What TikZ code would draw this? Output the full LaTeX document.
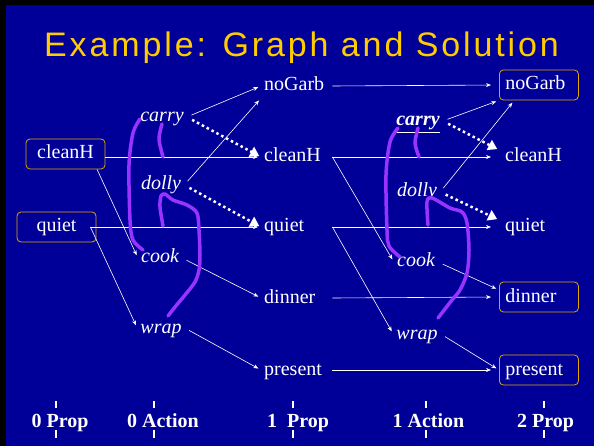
\documentclass[tikz,border=0pt]{standalone}
\usepackage{fontspec}
\setmainfont{Liberation Serif}
\newfontfamily\titlefont[LetterSpace=8.5]{Liberation Sans}
\usepackage{tikz}
\usetikzlibrary{arrows.meta, calc}
\definecolor{slidebg}{RGB}{0, 0, 153}
\definecolor{titlegold}{RGB}{255, 204, 0}
\definecolor{boxgold}{RGB}{224, 165, 0}
\definecolor{mutexpurple}{RGB}{153, 51, 255}

\begin{document}
\begin{tikzpicture}[
    x=1pt, y=-1pt,
    initBox/.style={draw=boxgold, line width=0.8pt, rounded corners=4pt, text=white, font=\fontsize{20}{24}\selectfont, minimum width=79pt, minimum height=30pt, inner sep=2pt, text height=14pt, text depth=4pt},
    propNode/.style={text=white, font=\fontsize{20}{24}\selectfont, text width=65pt, align=left, inner sep=3pt, text height=14pt, text depth=4pt, anchor=west},
    actNode/.style={text=white, font=\fontsize{20}{24}\selectfont\itshape, inner sep=3pt, text height=14pt, text depth=4pt},
    goalNode/.style={text=white, font=\fontsize{20}{24}\selectfont, text width=67pt, align=left, inner sep=6pt, minimum height=30pt, text height=14pt, text depth=4pt, anchor=west},
    goalBox/.style={goalNode, draw=boxgold, line width=0.8pt, rounded corners=4pt},
    link/.style={draw=white, line width=0.6pt, -{Stealth[length=5pt, width=4pt]}, shorten >=3pt},
    actLink/.style={link, shorten <=5pt},
    delLink/.style={draw=white, line width=2.5pt, dash pattern=on 2.5pt off 3pt, -{Triangle[length=9pt, width=11pt]}, shorten <=6pt, shorten >=2pt},
    mutex/.style={draw=mutexpurple, line width=3.5pt, line cap=round, line join=round},
    levelLabel/.style={text=white, font=\fontsize{20}{24}\selectfont\bfseries, anchor=base, inner sep=0pt},
    tick/.style={draw=white, line width=1.5pt}
]

% Slide background
\useasboundingbox (0,0) rectangle (594,446);
\fill[black] (0,0) rectangle (594,446);
\fill[slidebg] (6,5) rectangle (594,446);

\node[text=titlegold, font=\titlefont\fontsize{34}{40}\selectfont, anchor=base west, inner sep=0pt] (title) at (44,57) {Example: Graph and Solution};

% Level 0 propositions and actions
\node[initBox] (cleanH0) at (65.5,154) {cleanH};
\node[initBox] (quiet0) at (56.5,227) {quiet};

\node[actNode] (carry0) at (162,117) {carry};
\node[actNode] (dolly0) at (161,185) {dolly};
\node[actNode] (cook0) at (160,258) {cook};
\node[actNode] (wrap0) at (161,328) {wrap};

% Level 1 propositions and actions
\node[propNode] (noGarb1) at (261,86) {noGarb};
\node[propNode] (cleanH1) at (261,157) {cleanH};
\node[propNode] (quiet1) at (261,227) {quiet};
\node[propNode] (dinner1) at (261,298) {dinner};
\node[propNode] (present1) at (261,370) {present};

\node[actNode, font=\fontsize{20}{24}\selectfont\bfseries\itshape] (carry1) at (418,121) {\underline{carry}};
\node[actNode] (dolly1) at (417,192) {dolly};
\node[actNode] (cook1) at (416,262) {cook};
\node[actNode] (wrap1) at (417,334) {wrap};

% Level 2 propositions (goals boxed)
\node[goalBox] (noGarb2) at (499,85) {noGarb};
\node[goalNode] (cleanH2) at (499,157) {cleanH};
\node[goalNode] (quiet2) at (499,227) {quiet};
\node[goalBox] (dinner2) at (499,297) {dinner};
\node[goalBox] (present2) at (499,370) {present};

% Level 0 -> level 1
\draw[link] (cleanH0.east |- cleanH1.west) -- (cleanH1.west);
\draw[link] ([xshift=-6pt]quiet0.east) -- (quiet1.west);
\draw[link] (cleanH0.334) -- (cook0.west);
\draw[link] ([xshift=-6pt]quiet0.east) -- (wrap0.west);
\draw[actLink] (carry0.east) -- (noGarb1.west);
\draw[delLink] (carry0.east) -- (cleanH1.west);
\draw[actLink] (dolly0.east) -- (noGarb1.south west);
\draw[delLink] (dolly0.east) -- (quiet1.west);
\draw[actLink] (cook0.east) -- (dinner1.west);
\draw[actLink] (wrap0.east) -- (present1.west);

% Level 1 -> level 2
\draw[link, shorten >=8pt] (noGarb1.east) -- (noGarb2.west);
\draw[link, shorten >=8pt] (cleanH1.east) -- (cleanH2.west);
\draw[link, shorten >=8pt] (quiet1.east) -- (quiet2.west);
\draw[link, shorten >=8pt] (dinner1.east) -- (dinner2.west);
\draw[link, shorten >=8pt] (present1.east) -- (present2.west);
\draw[link] (cleanH1.east) -- (cook1.west);
\draw[link] (quiet1.east) -- (wrap1.west);
\draw[actLink] (carry1.east) -- (noGarb2.south west);
\draw[delLink] (carry1.east) -- (cleanH2.170);
\draw[actLink] (dolly1.east) -- (noGarb2.212);
\draw[delLink] (dolly1.east) -- (quiet2.170);
\draw[actLink] (cook1.east) -- (dinner2.170);
\draw[actLink] (wrap1.east) -- (present2.west);

% Mutex marks
\draw[mutex] plot[smooth] coordinates {(140,119) (133,133) (129,165) (130,220) (133,240) (143,250)};
\draw[mutex] plot[smooth] coordinates {(162,124) (159,139) (163,157)};
\draw[mutex] plot[smooth] coordinates {(163,226) (160,207) (161,196) (165,194) (173,200) (187,205) (197,213) (199,230) (200,255) (199,270) (195,282) (185,295) (175,307) (168,316)};
\draw[mutex] plot[smooth] coordinates {(398,128) (390,142) (386,175) (387,230) (389,246) (400,257)};
\draw[mutex] plot[smooth] coordinates {(418,128) (415,143) (419,157)};
\draw[mutex] plot[smooth] coordinates {(428,225) (427,202) (432,198) (450,208) (462,212) (467,223) (469,250) (467,273) (460,290) (452,300) (438,318)};

% Level labels
\node[levelLabel] (prop0) at (60,427) {0 Prop};
\node[levelLabel] (act0) at (163,427) {0 Action};
\node[levelLabel] (prop1) at (298,427) {1\ \ Prop};
\node[levelLabel] (act1) at (428.5,427) {1 Action};
\node[levelLabel] (prop2) at (545.5,427) {2 Prop};
\foreach \x in {56,154,293,426,544}
    \draw[tick] (\x,401) -- (\x,408) (\x,430) -- (\x,438);

\end{tikzpicture}
\end{document}
